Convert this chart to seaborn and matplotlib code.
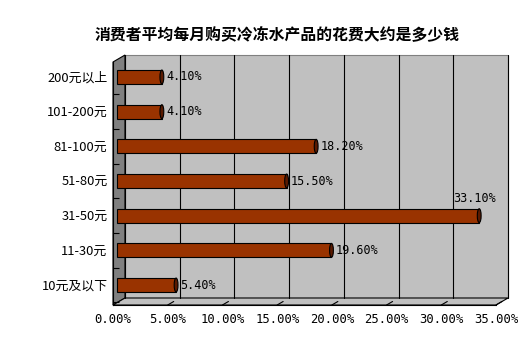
import matplotlib
matplotlib.use("Agg")
import matplotlib.pyplot as plt
import matplotlib.transforms as mtransforms
from matplotlib.patches import Polygon, Rectangle, Ellipse
from matplotlib.ticker import FixedLocator
import seaborn as sns
import pandas as pd

title = "消费者平均每月购买冷冻水产品的花费大约是多少钱"
categories = ["200元以上", "101-200元", "81-100元", "51-80元", "31-50元", "11-30元", "10元及以下"]
values = [4.1, 4.1, 18.2, 15.5, 33.1, 19.6, 5.4]
xticks = [0, 5, 10, 15, 20, 25, 30, 35]

sns.set_theme(style="white")
plt.rcParams['font.family'] = ['Noto Sans CJK SC', 'DejaVu Sans']
plt.rcParams['text.color'] = 'black'
plt.rcParams['xtick.color'] = 'black'
plt.rcParams['ytick.color'] = 'black'

df = pd.DataFrame({"cat": categories, "val": values})

W_px, H_px = 518, 351
fig = plt.figure(figsize=(W_px / 100, H_px / 100), dpi=100)
left, right, top, bottom = 113, 496, 62, 305
ax = fig.add_axes([left / W_px, 1 - bottom / H_px, (right - left) / W_px, (bottom - top) / H_px])
ax.set_facecolor("none")
aw, ah = right - left, bottom - top
dx, dy = 12, 7
fx, fy = dx / aw, dy / ah

sns.barplot(data=df, x="val", y="cat", orient="h", color="#993300", width=0.4,
            edgecolor="black", linewidth=0.8, saturation=1, ax=ax, zorder=3)
bars = [p for p in ax.patches]

back = Rectangle((fx, fy), 1, 1, transform=ax.transAxes, facecolor="#C0C0C0",
                 edgecolor="#808080", lw=0.8, zorder=0, clip_on=False)
lwall = Polygon([(0, 0), (0, 1), (fx, 1 + fy), (fx, fy)], closed=True, transform=ax.transAxes,
                facecolor="#808080", edgecolor="black", lw=0.8, zorder=0.5, clip_on=False)
floor = Polygon([(0, 0), (1, 0), (1 + fx, fy), (fx, fy)], closed=True, transform=ax.transAxes,
                facecolor="#C0C0C0", edgecolor="black", lw=0.8, zorder=0.5, clip_on=False)
for p in (back, lwall, floor):
    ax.add_patch(p)

ax.set_xlim(0, 35)
n = len(categories)
ax.set_ylim(n - 1 + 20 / 34.7, -15 / 34.7)

bar_off = mtransforms.ScaledTranslation(4 / 100, 0, fig.dpi_scale_trans)
mono = ['DejaVu Sans Mono', 'DejaVu Sans']
for p in bars:
    p.set_transform(ax.transData + bar_off)
    x0, y0 = p.get_x(), p.get_y()
    w, h = p.get_width(), p.get_height()
    cap = Ellipse((x0 + w, y0 + h / 2), 0.35, h, facecolor="#5A1A00", edgecolor="black",
                  lw=0.8, zorder=4, transform=ax.transData + bar_off)
    ax.add_patch(cap)
    if w > 30:
        ax.annotate(f"{w:.2f}%", (x0 + w, y0), xytext=(-3, 3), textcoords="offset points",
                    ha="center", va="bottom", fontsize=8.5, zorder=5, family=mono,
                    xycoords=ax.transData + bar_off)
    else:
        ax.annotate(f"{w:.2f}%", (x0 + w, y0 + h / 2), xytext=(3, 0), textcoords="offset points",
                    ha="left", va="center", fontsize=8.5, zorder=5, family=mono,
                    xycoords=ax.transData + bar_off)

ax.set_xticks(xticks)
ax.set_xticklabels([f"{t:.2f}%" for t in xticks], fontsize=8.8, family=mono)
ax.grid(axis="x", color="black", lw=0.8)
ax.grid(axis="y", visible=False)
grid_off = mtransforms.ScaledTranslation(dx / 100, dy / 100, fig.dpi_scale_trans)
for gl in ax.get_xgridlines():
    gl.set_transform(gl.get_transform() + grid_off)
    gl.set_zorder(1)
    gl.set_clip_on(False)

tick_off = mtransforms.ScaledTranslation(dx * 0.5 / 100, dy * 0.5 / 100, fig.dpi_scale_trans)
for t in xticks[1:]:
    ax.annotate("", xy=(t, 0), xycoords=ax.get_xaxis_transform(),
                xytext=(t, 0), textcoords=ax.get_xaxis_transform() + tick_off,
                arrowprops=dict(arrowstyle="-", color="black", lw=0.8, shrinkA=0, shrinkB=0),
                annotation_clip=False, zorder=2)

ax.yaxis.set_minor_locator(FixedLocator([i + 0.5 for i in range(-1, n)]))
ax.tick_params(axis="y", which="minor", length=4, width=0.8, direction="in", left=True)
ax.tick_params(axis="x", length=0, pad=6)
ax.tick_params(axis="y", which="major", length=0, pad=4, labelsize=9.3)
ax.set_xlabel("")
ax.set_ylabel("")
for s in ["top", "right"]:
    ax.spines[s].set_visible(False)
for s in ["left", "bottom"]:
    ax.spines[s].set_color("black")
    ax.spines[s].set_linewidth(0.8)

fig.text(277 / W_px, 1 - 35 / H_px, title, ha="center", va="center", fontsize=11.4, fontweight="bold")

fig.savefig("out.png", dpi=100, facecolor="white")
